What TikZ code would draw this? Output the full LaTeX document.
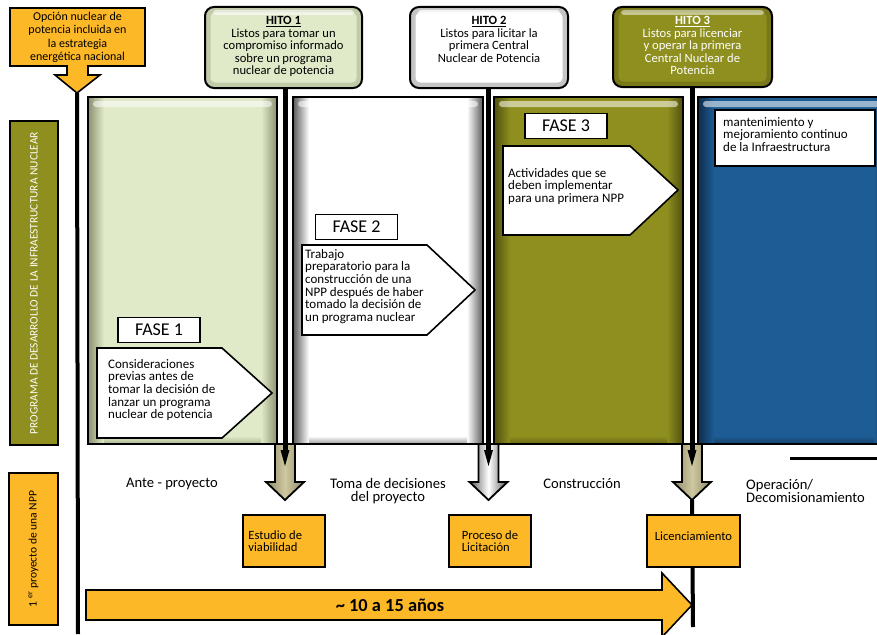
\documentclass[tikz,border=0pt]{standalone}
\usepackage{fontspec}
\setmainfont{Carlito}
\usetikzlibrary{calc}
\definecolor{orgA}{HTML}{FDB827}
\definecolor{oliveA}{HTML}{8E8F1E}
\definecolor{oliveD}{HTML}{4F4F10}
\definecolor{lgreen}{HTML}{E0EAC9}
\definecolor{lgreenD}{HTML}{8A9070}
\definecolor{whiteD}{HTML}{5A5A5A}
\definecolor{blueA}{HTML}{1D5C94}
\definecolor{blueD}{HTML}{0E2C4A}
\definecolor{khaki}{HTML}{CEC8A0}
\definecolor{khakiD}{HTML}{8E8A6A}
\newcommand\phcol[4]{%
  \fill[#3] (#1,97) rectangle (#2,444);
  \shade[left color=#4, right color=#3] (#1,97) rectangle ($(#1,444)+(16,0)$);
  \shade[left color=#3, right color=#4] ($(#2,97)+(-16,0)$) rectangle (#2,444);
  \shade[top color=#3, bottom color=#4, opacity=0.6] ($(#1,436)+(16,0)$) rectangle ($(#2,444)+(-16,0)$);
  \fill[white,opacity=0.55,rounded corners=3] ($(#1,101)+(5,0)$) rectangle ($(#2,107)+(-5,0)$);
  \draw[line width=2] (#1,97) rectangle (#2,444);
}
\newcommand\fatarrow[4]{% x, fill, dark, name
  \path[shade, left color=#3, right color=#3, middle color=#2, draw=black, line width=1.8]
    ($(#1,444)+(-10,0)$) -- ($(#1,482)+(-10,0)$) -- ($(#1,482)+(-19,0)$) -- (#1,500)
    -- ($(#1,482)+(19,0)$) -- ($(#1,482)+(10,0)$) -- ($(#1,444)+(10,0)$) -- cycle;
  \coordinate (#4) at (#1,500);
}
\tikzset{
  body/.style={font=\fontsize{13}{12.6}\selectfont, align=left, inner sep=0pt, anchor=north west},
  hitotxt/.style={font=\fontsize{12.6}{12.6}\selectfont, align=center, inner sep=0pt, anchor=north},
  fasebox/.style={draw=black, line width=1.6, fill=white, minimum width=82, minimum height=25, inner sep=0pt, font=\fontsize{18}{18}\selectfont},
  orgbox/.style={draw=black, line width=1.6, fill=orgA, inner sep=0pt},
  hline/.style={line width=5},
  lowlab/.style={font=\fontsize{14.6}{13}\selectfont, align=center, inner sep=0pt},
  smalltxt/.style={font=\fontsize{12.6}{12.6}\selectfont, align=left, inner sep=0pt},
  glow/.style={line width=5, opacity=0.35, rounded corners=7},
}
\begin{document}
\begin{tikzpicture}[x=1pt,y=-1pt]
\useasboundingbox (0,0) rectangle (877,634);

% ---- top-left box with down arrow
\draw[fill=orgA, line width=1.6] (10,8) -- (145,8) -- (145,66) -- (88,66) -- (88,75) -- (100,75)
  -- (77,93) -- (55,75) -- (67,75) -- (67,66) -- (10,66) -- cycle;
\node[font=\fontsize{12}{13.3}\selectfont, align=center, inner sep=0pt, anchor=north] (opt) at (77.5,12)
  {Opción nuclear de\\potencia incluida en\\la estrategia\\energética nacional};
\coordinate (optTip) at (77,93);

% main timeline line
\coordinate (tlBot) at (78,634);
\draw[line width=4] (optTip) -- (tlBot);

% ---- columns
\phcol{88}{277}{lgreen}{lgreenD}
\phcol{293}{483}{white}{whiteD}
\phcol{494}{683}{oliveA}{oliveD}
\phcol{698}{890}{blueA}{blueD}

% ---- fat arrows
\fatarrow{285}{khaki}{khakiD}{a1}
\fatarrow{488.5}{white}{whiteD}{a2}
\fatarrow{692}{khaki}{khakiD}{a3}

% ---- hito boxes
\fill[lgreen, rounded corners=9] (205,7) rectangle (362,88);
\draw[glow, lgreenD] (208,10) rectangle (359,85);
\fill[white,opacity=0.6,rounded corners=3] (213,10) rectangle (354,15);
\draw[line width=2, rounded corners=9] (205,7) rectangle (362,88);
\node[hitotxt] (h1) at (283.5,16) {\textbf{\underline{HITO 1}}\\Listos para tomar un\\compromiso informado\\sobre un programa\\nuclear de potencia};

\fill[white, rounded corners=9] (410,7) rectangle (568,88);
\draw[glow, whiteD] (413,10) rectangle (565,85);
\fill[white,opacity=0.8,rounded corners=3] (418,10) rectangle (560,15);
\draw[line width=2, rounded corners=9] (410,7) rectangle (568,88);
\node[hitotxt] (h2) at (489,16) {\textbf{\underline{HITO 2}}\\Listos para licitar la\\primera Central\\Nuclear de Potencia};

\fill[oliveA, rounded corners=9] (613,7) rectangle (772,87);
\draw[glow, oliveD] (616,10) rectangle (769,84);
\fill[white,opacity=0.5,rounded corners=3] (621,10) rectangle (764,15);
\draw[line width=2, rounded corners=9] (613,7) rectangle (772,87);
\node[hitotxt, text=white] (h3) at (692.5,16) {\textbf{\underline{HITO 3}}\\Listos para licenciar\\y operar la primera\\Central Nuclear de\\Potencia};

% hito lines ending in a point inside the fat arrows
\coordinate (e1) at (285,466);
\coordinate (e2) at (488.5,466);
\coordinate (e3) at (692,466);
\foreach \x/\hb/\e in {285/88/e1, 488.5/88/e2, 692/87/e3}{
  \draw[hline] (\x,\hb) -- (\x,452);
  \fill[black] (\x-4.5,450) -- (\x+4.5,450) -- (\e) -- cycle;
}

% ---- left vertical labels
\node[draw=black, line width=1.6, fill=oliveA, minimum width=48, minimum height=324, inner sep=0pt] (lab1) at (34,283) {};
\node[rotate=90, text=white, font=\fontsize{11.4}{11.4}\selectfont, inner sep=0pt] at (lab1.center) {PROGRAMA DE DESARROLLO DE LA INFRAESTRUCTURA NUCLEAR};
\node[orgbox, minimum width=49, minimum height=152] (lab2) at (33.5,549) {};
\node[rotate=90, font=\fontsize{11.5}{11.5}\selectfont, inner sep=0pt] at (lab2.center) {1 \textsuperscript{er} proyecto de una NPP};

% ---- FASE 1
\node[fasebox] (f1) at (159,330) {FASE 1};
\draw[fill=white, line width=1.6] (97,348) -- (222,348) -- (272,393) -- (222,438) -- (97,438) -- cycle;
\node[body] (t1) at (108,359) {Consideraciones\\previas antes de\\tomar la decisión de\\lanzar un programa\\nuclear de potencia};

% ---- FASE 2
\node[fasebox] (f2) at (356.5,227) {FASE 2};
\draw[fill=white, line width=1.6] (302,245) -- (427,245) -- (475,290) -- (427,335) -- (302,335) -- cycle;
\node[body] (t2) at (305,249) {Trabajo\\preparatorio para la\\construcción de una\\NPP después de haber\\tomado la decisión de\\un programa nuclear};

% ---- FASE 3
\node[fasebox] (f3) at (566,126) {FASE 3};
\draw[fill=white, line width=1.6] (503,146) -- (630,146) -- (678,190) -- (630,235) -- (503,235) -- cycle;
\node[body] (t3) at (508,168) {Actividades que se\\deben implementar\\para una primera NPP};

% ---- blue column text box
\node[draw=black, line width=1.6, fill=white, minimum width=160, minimum height=56, inner sep=0pt] (bt) at (795,138) {};
\node[body] (t4) at (723,117) {mantenimiento y\\mejoramiento continuo\\de la Infraestructura};

% ---- lower labels
\node[lowlab] (l1) at (172,484) {Ante - proyecto};
\node[lowlab] (l2) at (388,491) {Toma de decisiones\\del proyecto};
\node[lowlab] (l3) at (582,484) {Construcción};
\node[lowlab, align=left, anchor=west] (l4) at (746,491) {Operación/\\Decomisionamiento};
\coordinate (hl1) at (790,458);
\coordinate (hl2) at (877,458);
\draw[line width=3] (hl1) -- (hl2);

% line below hito 3 arrow
\coordinate (lb) at (693,627);
\draw[line width=4] (a3) -- (lb);

% ---- orange boxes
\node[orgbox, minimum width=82, minimum height=52] (b1) at (284,541) {};
\node[smalltxt, anchor=west] at ($(b1.west)+(6,0)$) {Estudio de\\viabilidad};
\node[orgbox, minimum width=82, minimum height=52] (b2) at (490,541) {};
\node[smalltxt] at (b2.center) {Proceso de\\Licitación};
\node[orgbox, minimum width=93, minimum height=52] (b3) at (693.5,541) {};
\node[smalltxt] at ($(b3.center)+(0,-5)$) {Licenciamiento};

% ---- big arrow
\coordinate (bigTip) at (692,605);
\draw[fill=orgA, line width=1.6] (86,590) -- (662,590) -- (662,573) -- (bigTip) -- (662,637)
  -- (662,620) -- (86,620) -- cycle;
\node[font=\bfseries\fontsize{18.4}{18.4}\selectfont, inner sep=0pt] (yrs) at (390,605) {\textasciitilde{} 10 a 15 años};
\end{tikzpicture}
\end{document}
